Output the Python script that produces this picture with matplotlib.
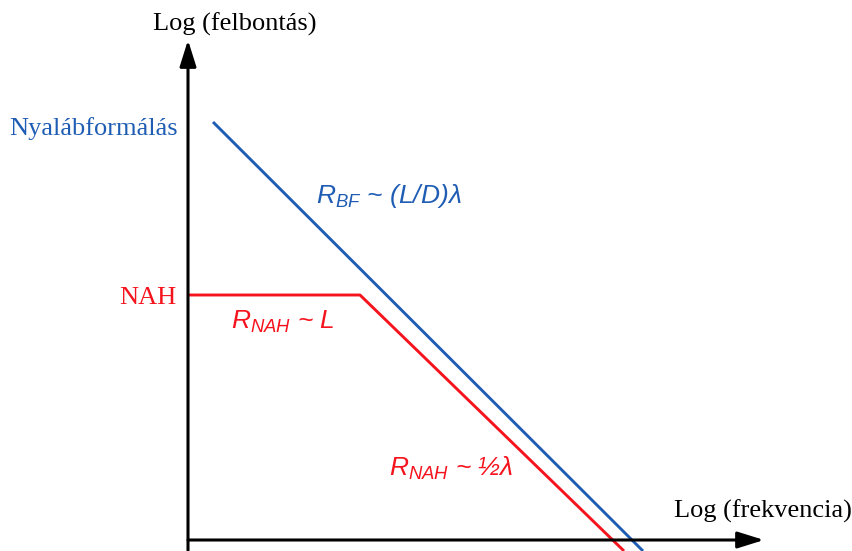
import matplotlib.pyplot as plt

plt.rcParams['mathtext.fontset'] = 'custom'
plt.rcParams['mathtext.it'] = 'Liberation Sans:italic'
plt.rcParams['mathtext.rm'] = 'Liberation Sans:italic'

BLUE = '#1f5db4'
RED = '#f5141e'

# log(frequency) vs log(resolution), schematic units
bf_x = [0.25, 4.55]
bf_y = [4.18, -0.11]
nah_x = [0.0, 1.72, 4.36]
nah_y = [2.45, 2.45, -0.11]

fig = plt.figure(figsize=(8.53, 5.51), dpi=100)
ax = fig.add_axes([0, 0, 1, 1])
ax.set_xlim(-1.88, 6.65)
ax.set_ylim(-0.11, 5.40)
ax.axis('off')

# axes with arrow heads
arrow = dict(arrowstyle='-|>,head_length=1.6,head_width=0.5', color='black',
             lw=2.2, shrinkA=0, shrinkB=0)
ax.annotate('', xy=(0, 5.0), xytext=(0, -0.11), arrowprops=arrow)
ax.annotate('', xy=(5.76, 0), xytext=(0, 0), arrowprops=arrow)

ax.plot(bf_x, bf_y, color=BLUE, lw=2.1, solid_capstyle='butt')
ax.plot(nah_x, nah_y, color=RED, lw=2.1, solid_capstyle='butt')

serif = 'Liberation Serif'
ax.text(0.47, 5.16, 'Log (felbontás)', family=serif, fontsize=19,
        ha='center', va='center')
ax.text(5.75, 0.29, 'Log (frekvencia)', family=serif, fontsize=19,
        ha='center', va='center')
ax.text(-0.10, 4.11, 'Nyalábformálás', family=serif, fontsize=19,
        color=BLUE, ha='right', va='center')
ax.text(-0.12, 2.42, 'NAH', family=serif, fontsize=19,
        color=RED, ha='right', va='center')

sans = 'Liberation Sans'
ax.text(1.28, 3.44, r'$R_{BF}$ ~ $(L/D)\lambda$', family=sans, style='italic',
        fontsize=19, color=BLUE, ha='left', va='center')
ax.text(0.43, 2.18, r'$R_{NAH}$ ~ $L$', family=sans, style='italic',
        fontsize=19, color=RED, ha='left', va='center')
ax.text(2.01, 0.72, r'$R_{NAH}$ ~ ½$\lambda$', family=sans, style='italic',
        fontsize=19, color=RED, ha='left', va='center')

plt.savefig('out.png', dpi=100)
